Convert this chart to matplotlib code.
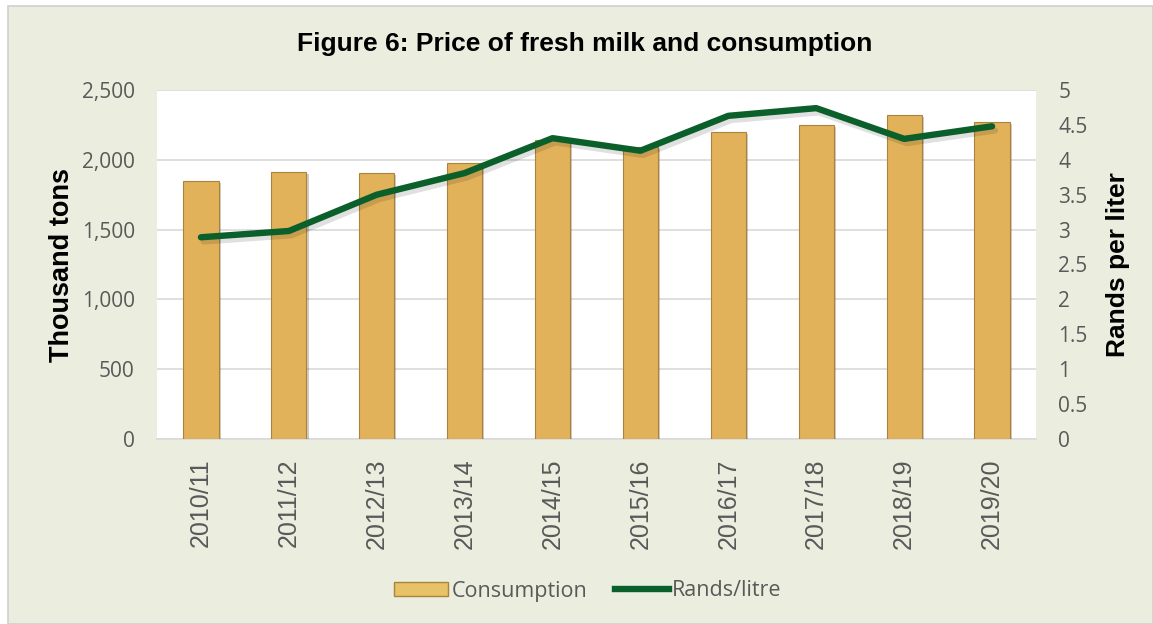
import matplotlib.pyplot as plt
import matplotlib.patheffects as pe
from matplotlib.patches import Rectangle
from matplotlib.lines import Line2D
from matplotlib.ticker import FuncFormatter

years = ['2010/11', '2011/12', '2012/13', '2013/14', '2014/15',
         '2015/16', '2016/17', '2017/18', '2018/19', '2019/20']
consumption = [1848, 1913, 1905, 1977, 2140, 2095, 2199, 2250, 2318, 2271]
price = [2.89, 2.98, 3.50, 3.81, 4.31, 4.13, 4.63, 4.74, 4.30, 4.48]

bg = '#EBEEDF'
bar_color = '#E2B25A'
line_color = '#0B5F2A'
text_gray = '#595959'
plt.rcParams['font.family'] = ['Open Sans', 'DejaVu Sans']

fig = plt.figure(figsize=(11.53, 6.24), dpi=100, facecolor='white')
fig.patches.append(Rectangle((8 / 1153, 0), 1 - 8 / 1153, 1 - 6 / 624,
                             transform=fig.transFigure, facecolor=bg,
                             edgecolor='#D0D0D0', linewidth=1.2, zorder=-10))

ax = fig.add_axes([157 / 1153, 1 - 439 / 624, (1036 - 157) / 1153, (439 - 90) / 624])
ax.set_facecolor('white')
x = range(len(years))

ax.bar(x, consumption, width=0.4, color=bar_color, edgecolor='#A8843C',
       linewidth=0.8, zorder=3,
       path_effects=[pe.SimplePatchShadow(offset=(1.5, -1.5), alpha=0.25), pe.Normal()])
ax.set_ylim(0, 2500)
ax.set_xlim(-0.5, len(years) - 0.5)
ax.set_yticks(range(0, 2501, 500))
ax.yaxis.set_major_formatter(FuncFormatter(lambda v, p: f'{int(v):,}'))
ax.grid(axis='y', color='#D9D9D9', linewidth=1.2, zorder=0)
for s in ['top', 'right', 'left']:
    ax.spines[s].set_visible(False)
ax.spines['bottom'].set_color('#D9D9D9')
ax.spines['bottom'].set_linewidth(1.2)
ax.tick_params(axis='y', length=0, labelsize=15, labelcolor=text_gray, pad=16)
ax.tick_params(axis='x', length=0, labelsize=18, labelcolor=text_gray, pad=14)
ax.set_xticks(list(x))
ax.set_xticklabels(years, rotation=90, family='Liberation Sans')
ax.set_ylabel('Thousand tons', fontsize=19.5, fontweight='bold',
              family='Liberation Sans', labelpad=5)

ax2 = ax.twinx()
ax2.plot(x, price, color=line_color, linewidth=4.6, solid_capstyle='round', zorder=5,
         path_effects=[pe.SimpleLineShadow(offset=(2, -3), alpha=0.12), pe.Normal()])
ax2.set_ylim(0, 5)
ax2.set_yticks([0, 0.5, 1, 1.5, 2, 2.5, 3, 3.5, 4, 4.5, 5])
ax2.set_yticklabels(['0', '0.5', '1', '1.5', '2', '2.5', '3', '3.5', '4', '4.5', '5'])
for s in ax2.spines.values():
    s.set_visible(False)
ax2.tick_params(axis='y', length=0, labelsize=15, labelcolor=text_gray, pad=16)
ax2.set_ylabel('Rands per liter', fontsize=19, fontweight='bold',
               family='Liberation Sans', labelpad=13)

fig.text(0.507, 1 - 44 / 624, 'Figure 6: Price of fresh milk and consumption',
         ha='center', va='center', fontsize=19, fontweight='bold', family='Liberation Sans')

handles = [Rectangle((0, 0), 1, 1, facecolor='#E8C266', edgecolor='#A8843C'),
           Line2D([0], [0], color=line_color, linewidth=4.6)]
fig.legend(handles, ['Consumption', 'Rands/litre'], loc='center',
           bbox_to_anchor=(0.51, 1 - 591 / 624), ncol=2, frameon=False,
           fontsize=15.5, labelcolor=text_gray, handlelength=2.5, handleheight=0.6,
           handletextpad=0.15, columnspacing=1.3)

fig.savefig('out.png', dpi=100, facecolor=fig.get_facecolor())
